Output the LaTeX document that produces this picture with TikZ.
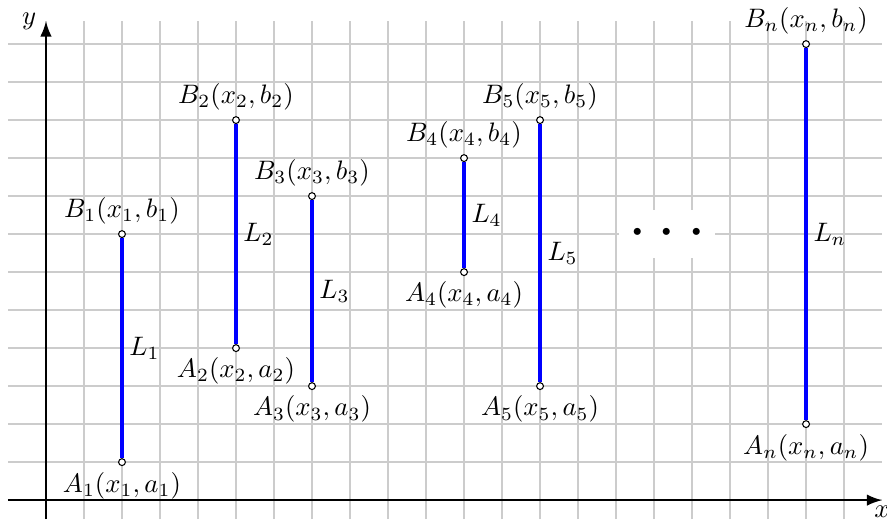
\documentclass[tikz,border=0pt]{standalone}
\usetikzlibrary{arrows.meta}

\begin{document}
\begin{tikzpicture}[x=0.5cm,y=0.5cm,>=Latex,
   pt/.style={circle,draw,fill=white,inner sep=0pt,minimum size=0.9mm,line width=0.4pt},
   seg/.style={blue,line width=1.6pt},
   lab/.style={inner sep=2pt,text=black}]
  \useasboundingbox (-1.21,-0.5) rectangle (22.13,13.16);
  % grid and axes
  \draw[gray!40,line width=0.75pt,step=0.5cm] (-0.99,-0.5) grid (21.99,12.6);
  \coordinate (xl) at (-1,0);
  \coordinate (xr) at (22,0);
  \coordinate (yb) at (0,-0.5);
  \coordinate (yt) at (0,12.6);
  \draw[->,semithick] (xl) -- (xr) node[below,inner sep=2pt] {$x$};
  \draw[->,semithick] (yb) -- (yt) node[left] {$y$};
  % end points of the segments
  \node[pt,label={[lab]below:$A_1(x_1,a_1)$}] (A1) at (2,1)  {};
  \node[pt,label={[lab]above:$B_1(x_1,b_1)$}] (B1) at (2,7)  {};
  \node[pt,label={[lab]below:$A_2(x_2,a_2)$}] (A2) at (5,4)  {};
  \node[pt,label={[lab]above:$B_2(x_2,b_2)$}] (B2) at (5,10) {};
  \node[pt,label={[lab]below:$A_3(x_3,a_3)$}] (A3) at (7,3)  {};
  \node[pt,label={[lab]above:$B_3(x_3,b_3)$}] (B3) at (7,8)  {};
  \node[pt,label={[lab]below:$A_4(x_4,a_4)$}] (A4) at (11,6) {};
  \node[pt,label={[lab]above:$B_4(x_4,b_4)$}] (B4) at (11,9) {};
  \node[pt,label={[lab]below:$A_5(x_5,a_5)$}] (A5) at (13,3) {};
  \node[pt,label={[lab]above:$B_5(x_5,b_5)$}] (B5) at (13,10) {};
  \node[pt,label={[lab]below:$A_n(x_n,a_n)$}] (An) at (20,2) {};
  \node[pt,label={[lab]above:$B_n(x_n,b_n)$}] (Bn) at (20,12) {};
  % segments
  \draw[seg] (A1) -- (B1) node[lab,midway,right] {$L_1$};
  \draw[seg] (A2) -- (B2) node[lab,midway,right] {$L_2$};
  \draw[seg] (A3) -- (B3) node[lab,midway,right] {$L_3$};
  \draw[seg] (A4) -- (B4) node[lab,midway,right] {$L_4$};
  \draw[seg] (A5) -- (B5) node[lab,midway,right] {$L_5$};
  \draw[seg] (An) -- (Bn) node[lab,midway,right] {$L_n$};
  \node[fill=white,font=\Huge] (dots) at (16.34,7) {$\cdots$};
\end{tikzpicture}
\end{document}
